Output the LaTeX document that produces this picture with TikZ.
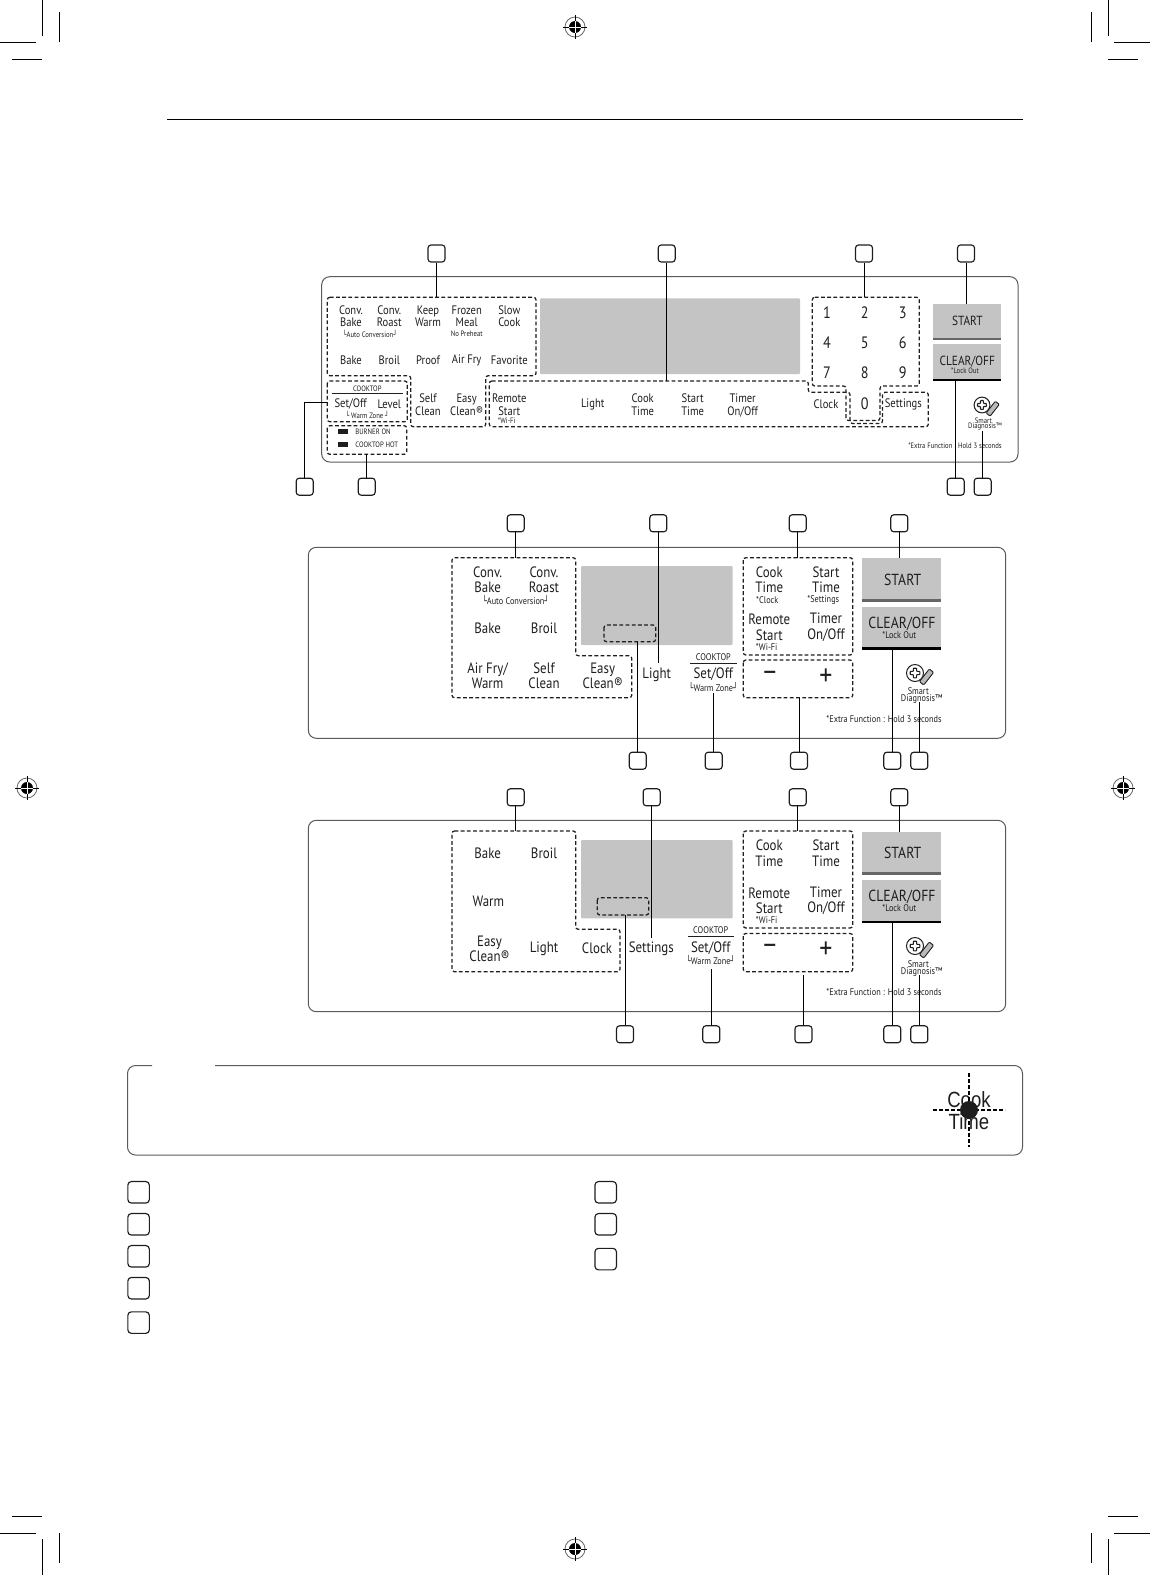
\documentclass[tikz,border=0pt]{standalone}
\usepackage{fontspec}
\setmainfont[FakeStretch=0.86]{PT Sans}
\newfontfamily\boxfont[FakeStretch=0.8]{DejaVu Sans}
\newfontfamily\iconfont[FakeStretch=0.82]{Liberation Sans}
\usepackage{xcolor}
\usetikzlibrary{calc}
\definecolor{inkK}{HTML}{1E1E1E}
\definecolor{panelG}{HTML}{5A5A5A}
\definecolor{screenG}{HTML}{C4C4C4}
\definecolor{barG}{HTML}{666666}
\newcommand{\lc}{{\boxfont └}}
\newcommand{\rc}{{\boxfont ┘}}
% registration mark and smart diagnosis icon
\newcommand{\regmark}[3]{%
  \node[circle, draw=barG, line width=0.8pt, minimum size=20pt, inner sep=0pt] (#1) at (#2,#3) {};
  \node[circle, fill=black, minimum size=12pt, inner sep=0pt] (#1c) at (#2,#3) {};
  \draw[white, line width=0.5pt] ($(#1c)+(-6,0)$)--($(#1c)+(6,0)$) ($(#1c)+(0,-6)$)--($(#1c)+(0,6)$);
  \draw[black, line width=0.9pt] ($(#1c)+(-12,0)$)--($(#1c)+(-6,0)$) ($(#1c)+(6,0)$)--($(#1c)+(12,0)$)
    ($(#1c)+(0,-12)$)--($(#1c)+(0,-6)$) ($(#1c)+(0,6)$)--($(#1c)+(0,12)$);}
\newcommand{\smarticon}[3]{%
  \node[circle, draw=inkK, line width=1pt, minimum size=#3*17pt, inner sep=0pt] (#1) at (#2) {};
  \draw[inkK, line width=1.1pt, rounded corners=0.6pt, scale=#3]
    ($(#1)+(-1.6,-4.8)$)--++(3.2,0)--++(0,3.2)--++(3.2,0)--++(0,3.2)--++(-3.2,0)--++(0,3.2)--++(-3.2,0)
    --++(0,-3.2)--++(-3.2,0)--++(0,-3.2)--++(3.2,0)--cycle;
  \node[draw=inkK, line width=0.9pt, fill=barG!45, rounded corners=1pt, minimum width=#3*16pt, minimum height=#3*5.5pt,
    inner sep=0pt, rotate=52] (#1p) at ($(#1)+(#3*11.5,#3*4)$) {};}

\begin{document}
\begin{tikzpicture}[x=1pt, y=-1pt,
  callout/.style={draw=inkK, line width=1.15pt, rounded corners=3pt, minimum size=17pt, inner sep=0pt},
  legendbox/.style={draw=inkK, line width=1.15pt, rounded corners=3.5pt, minimum size=21.5pt, inner sep=0pt},
  panel/.style={draw=panelG, line width=1pt, rounded corners=8pt},
  group/.style={draw=inkK, line width=1.25pt, dash pattern=on 3.8pt off 2.4pt, rounded corners=2.5pt},
  leader/.style={draw=black, line width=0.85pt},
  crop/.style={draw=black, line width=0.9pt},
  screen/.style={fill=screenG, rounded corners=1pt},
  keyA/.style={align=center, inner sep=0pt, text=inkK, font=\fontsize{12.3}{12.7}\selectfont},
  keyB/.style={align=center, inner sep=0pt, text=inkK, font=\fontsize{15}{15.4}\selectfont},
  btnA/.style={inner sep=0pt, text=inkK, font=\fontsize{13.2}{13.5}\selectfont},
  btnB/.style={inner sep=0pt, text=inkK, font=\fontsize{16}{16.4}\selectfont},
  noteA/.style={inner sep=0pt, text=inkK, font=\fontsize{7.8}{8}\selectfont},
  noteB/.style={inner sep=0pt, text=inkK, font=\fontsize{9.6}{10}\selectfont},
  digit/.style={inner sep=0pt, text=inkK, font=\fontsize{16.5}{17}\selectfont},
  sign/.style={inner sep=0pt, text=inkK, font=\fontsize{30}{30}\selectfont}
]
\useasboundingbox (0,0) rectangle (1150,1575);

% Crop marks
\draw[crop] (42.5,0)--(42.5,35.5) (59.5,12)--(59.5,41.5) (0,42.5)--(35.5,42.5) (12,59.5)--(42,59.5);
\draw[crop] (1108.3,0)--(1108.3,35.5) (1091.3,12)--(1091.3,41.5) (1114,42.5)--(1150,42.5) (1108,59.5)--(1138,59.5);
\draw[crop] (42.5,1539)--(42.5,1575) (59.5,1533)--(59.5,1563) (0,1533.3)--(35.5,1533.3) (12,1516.3)--(42,1516.3);
\draw[crop] (1108.3,1539)--(1108.3,1575) (1091.3,1533)--(1091.3,1563) (1114,1533.3)--(1150,1533.3) (1108,1516.3)--(1138,1516.3);
\regmark{regT}{575}{27}
\regmark{regL}{27}{788}
\regmark{regR}{1123}{788}
\regmark{regB}{575}{1549}

% Header rule
\draw[black, line width=0.9pt] (167,119)--(1023,119);

% Panel 1
\draw[panel] (321.7,276.7) rectangle (1018,462);
\fill[screen] (540,298.3) rectangle (800,374);
\draw[group] (327.3,297.3)--(536,297.3)--(536,375.7)--(485.7,375.7)--(485.7,426.7)--(410.7,426.7)--(410.7,375.7)--(327.3,375.7)--cycle;
\draw[group] (327.3,381) rectangle (407.3,421.7);
\draw[group] (327.3,425.7) rectangle (406.7,454.3);
\draw[group] (489.3,381)--(808.3,381)--(808.3,392.3)--(850,392.3)--(850,423.5)--(882.5,423.5)--(882.5,392.3)--(928.3,392.3)--(928.3,426.7)--(489.3,426.7)--cycle;
\draw[group] (812.3,297.3)--(919.3,297.3)--(919.3,386)--(880,386)--(880,420.5)--(846,420.5)--(846,386)--(812.3,386)--cycle;
\fill[screenG] (933.3,304) rectangle (1001,338.3);
\fill[barG] (933.3,338.3) rectangle (1001,340.3);
\fill[screenG] (933.3,344) rectangle (1001,379);
\fill[black] (933.3,379) rectangle (1001,381);

\node[keyA] (aConvBake) at (351,316.3) {Conv.\\Bake};
\node[keyA] (aConvRoast) at (389.3,316.3) {Conv.\\Roast};
\node[keyA] (aKeepWarm) at (428,316.3) {Keep\\Warm};
\node[keyA] (aFrozen) at (466.7,316.3) {Frozen\\Meal};
\node[keyA] (aSlow) at (509.3,316.3) {Slow\\Cook};
\node[noteA] (aAuto) at (370,334) {\lc Auto Conversion\rc};
\node[noteA] (aPreheat) at (466.7,334) {No Preheat};
\node[keyA] (aBake) at (351,360) {Bake};
\node[keyA] (aBroil) at (389.3,360) {Broil};
\node[keyA] (aProof) at (428,360) {Proof};
\node[keyA] (aAirFry) at (466.7,360.5) {Air Fry};
\node[keyA] (aFavorite) at (509.3,360) {Favorite};
\node[noteA] (aCooktop) at (367.3,388.3) {COOKTOP};
\draw[inkK, line width=0.7pt] (331.7,393.3)--(403.3,393.3);
\node[keyA] (aSetOff) at (350.7,404) {Set/Off};
\node[keyA] (aLevel) at (389.3,404) {Level};
\node[noteA] (aZone) at (367.3,415) {\lc\ Warm Zone \rc};
\node[keyA] (aSelf) at (428,404.8) {Self\\Clean};
\node[keyA] (aEasy) at (466.7,404.8) {Easy\\Clean®};
\node[keyA] (aRemote) at (509.3,404.8) {Remote\\Start};
\node[noteA] (aWifi) at (506.7,420.8) {*Wi-Fi};
\node[keyA] (aLight) at (592.7,404.5) {Light};
\node[keyA] (aCook) at (642.7,404.8) {Cook\\Time};
\node[keyA] (aStart) at (692.7,404.8) {Start\\Time};
\node[keyA] (aTimer) at (742.7,405.3) {Timer\\On/Off};
\node[keyA] (aClock) at (826,404) {Clock};
\node[keyA] (aSettings) at (903.3,404.5) {Settings};
\fill[inkK] (338.3,429) rectangle (348.3,434.3);
\fill[inkK] (338.3,442.3) rectangle (348.3,447.3);
\node[noteA] (aBurner) at (373,431.7) {BURNER ON};
\node[noteA] (aHot) at (376.7,445) {COOKTOP HOT};

% Keypad digits
\node[digit] (k1) at (827,312.7) {1};
\node[digit] (k2) at (864.7,312.7) {2};
\node[digit] (k3) at (902.7,312.7) {3};
\node[digit] (k4) at (827,343) {4};
\node[digit] (k5) at (864.7,343) {5};
\node[digit] (k6) at (902.7,343) {6};
\node[digit] (k7) at (827,373) {7};
\node[digit] (k8) at (864.7,373) {8};
\node[digit] (k9) at (902.7,373) {9};
\node[digit] (k0) at (864.7,404) {0};

\node[btnA] (aStartKey) at (967.3,321) {START};
\node[btnA] (aClear) at (967.3,361.5) {CLEAR/OFF};
\node[noteA] (aLock) at (965,370.7) {*Lock Out};
\smarticon{aIcon}{982,405}{0.93}
\node[noteA] (aSmart) at (983.3,420.7) {Smart};
\node[noteA] (aDiag) at (985,427) {Diagnosis™};
\node[noteA] (aExtra) at (955,445.5) {*Extra Function : Hold 3 seconds};

% Panel 1 callouts
\node[callout] (c1a) at (436.5,253.5) {};
\node[callout] (c1b) at (666.7,253.5) {};
\node[callout] (c1c) at (864,253.5) {};
\node[callout] (c1d) at (966,253.5) {};
\node[callout] (c1e) at (304.7,486.7) {};
\node[callout] (c1f) at (366.7,486.7) {};
\node[callout] (c1g) at (955.7,486.7) {};
\node[callout] (c1h) at (982.7,486.7) {};
\coordinate (t1a) at (436.5,297.3);
\coordinate (t1b) at (666.7,381);
\coordinate (t1c) at (864,297.3);
\coordinate (t1d) at (966,304);
\coordinate (t1e) at (327.3,402.5);
\coordinate (t1f) at (366.7,454.3);
\coordinate (t1g) at (955.7,381);
\coordinate (t1h) at (982.7,430.5);
\draw[leader] (c1a)--(t1a); \draw[leader] (c1b)--(t1b);
\draw[leader] (c1c)--(t1c); \draw[leader] (c1d)--(t1d);
\draw[leader] (c1e)--(c1e |- t1e)--(t1e); \draw[leader] (c1f)--(t1f);
\draw[leader] (c1g)--(t1g); \draw[leader] (c1h)--(t1h);

% Panel 2
\draw[panel] (308.3,547.3) rectangle (1005.7,738.3);
\fill[screen] (581,566) rectangle (732.7,645);
\draw[group] (452,557.7)--(575.7,557.7)--(575.7,655.7)--(631.7,655.7)--(631.7,697.7)--(452,697.7)--cycle;
\draw[group] (604,625) rectangle (655.7,641.7);
\draw[group] (743.3,557.7) rectangle (852.7,655);
\draw[group] (743.3,660) rectangle (852.7,697.7);
\fill[screenG] (862.3,558.3) rectangle (941,599);
\fill[barG] (862.3,599) rectangle (941,602);
\fill[screenG] (862.3,606.7) rectangle (941,647.3);
\fill[black] (862.3,647.3) rectangle (941,650);

\node[keyB] (bConvBake) at (487.6,580) {Conv.\\Bake};
\node[keyB] (bConvRoast) at (544,580) {Conv.\\Roast};
\node[noteB] (bAuto) at (515.7,600.5) {\lc Auto Conversion\rc};
\node[keyB] (bBake) at (487.6,628) {Bake};
\node[keyB] (bBroil) at (544,628) {Broil};
\node[keyB] (bAirFry) at (487.6,676) {Air Fry/\\Warm};
\node[keyB] (bSelf) at (544,676) {Self\\Clean};
\node[keyB] (bEasy) at (602.7,676) {Easy\\Clean®};
\node[keyB] (bLight) at (656.7,674.5) {Light};
\node[noteB] (bCooktop) at (713.3,656.7) {COOKTOP};
\draw[inkK, line width=0.7pt] (690,663.3)--(736.7,663.3);
\node[keyB] (bSetOff) at (713.3,674.5) {Set/Off};
\node[noteB] (bZone) at (713.3,687.2) {\lc Warm Zone\rc};
\node[keyB] (bCook) at (769.3,580) {Cook\\Time};
\node[noteB] (bClock) at (767.3,600) {*Clock};
\node[keyB] (bStart) at (826,580) {Start\\Time};
\node[noteB] (bSettings) at (823.3,600) {*Settings};
\node[keyB] (bRemote) at (769.3,627.3) {Remote\\Start};
\node[noteB] (bWifi) at (766.7,647) {*Wi-Fi};
\node[keyB] (bTimer) at (826,627.3) {Timer\\On/Off};
\node[sign] (bMinus) at (770,677) {−};
\node[sign] (bPlus) at (826,677) {+};
\node[btnB] (bStartKey) at (902.7,579.6) {START};
\node[btnB] (bClear) at (902,623.5) {CLEAR/OFF};
\node[noteB] (bLock) at (899.3,635) {*Lock Out};
\smarticon{bIcon}{915,673}{1}
\node[noteB] (bSmart) at (918.3,691) {Smart};
\node[noteB] (bDiag) at (921.7,699) {Diagnosis™};
\node[noteB] (bExtra) at (884,719) {*Extra Function : Hold 3 seconds};

% Panel 2 callouts
\node[callout] (c2a) at (515.7,523.3) {};
\node[callout] (c2b) at (658.3,523.3) {};
\node[callout] (c2c) at (797.7,523.3) {};
\node[callout] (c2d) at (899.3,523.3) {};
\node[callout] (c2e) at (637.7,760.7) {};
\node[callout] (c2f) at (713.7,760.7) {};
\node[callout] (c2g) at (799,760.7) {};
\node[callout] (c2h) at (892.3,760.7) {};
\node[callout] (c2i) at (919.3,760.7) {};
\coordinate (t2a) at (515.7,557.7);
\coordinate (t2b) at (658.3,662.7);
\coordinate (t2c) at (797.7,557.7);
\coordinate (t2d) at (899.3,558.3);
\coordinate (t2e) at (637.7,641.7);
\coordinate (t2f) at (713.7,693);
\coordinate (t2g) at (799,697.7);
\coordinate (t2h) at (892.3,650);
\coordinate (t2i) at (919.3,702);
\draw[leader] (c2a)--(t2a); \draw[leader] (c2b)--(t2b);
\draw[leader] (c2c)--(t2c); \draw[leader] (c2d)--(t2d);
\draw[leader] (c2e)--(t2e); \draw[leader] (c2f)--(t2f);
\draw[leader] (c2g)--(t2g); \draw[leader] (c2h)--(t2h);
\draw[leader] (c2i)--(t2i);

% Panel 3
\draw[panel] (308.3,820.3) rectangle (1005.7,1011.7);
\fill[screen] (581,840) rectangle (732.7,918.3);
\draw[group] (452,831)--(575.7,831)--(575.7,929.3)--(620,929.3)--(620,971.7)--(452,971.7)--cycle;
\draw[group] (597.3,897.7) rectangle (648.7,915);
\draw[group] (743.3,831) rectangle (852.7,928);
\draw[group] (743.3,933.5) rectangle (852.7,971.7);
\fill[screenG] (862.3,831.5) rectangle (941,872);
\fill[barG] (862.3,872) rectangle (941,875);
\fill[screenG] (862.3,880) rectangle (941,920.5);
\fill[black] (862.3,920.5) rectangle (941,923);

\node[keyB] (dBake) at (487.7,853.6) {Bake};
\node[keyB] (dBroil) at (544,853.6) {Broil};
\node[keyB] (dWarm) at (488.3,901.2) {Warm};
\node[keyB] (dEasy) at (489.5,949) {Easy\\Clean®};
\node[keyB] (dLight) at (544,948.5) {Light};
\node[keyB] (dClock) at (597,948.2) {Clock};
\node[keyB] (dSettings) at (651.3,948.5) {Settings};
\node[noteB] (dCooktop) at (710.7,930.3) {COOKTOP};
\draw[inkK, line width=0.7pt] (687.7,936)--(734,936);
\node[keyB] (dSetOff) at (710.7,948.5) {Set/Off};
\node[noteB] (dZone) at (710.7,960.5) {\lc Warm Zone\rc};
\node[keyB] (dCook) at (769.3,853.3) {Cook\\Time};
\node[keyB] (dStart) at (826,853.3) {Start\\Time};
\node[keyB] (dRemote) at (769.3,901) {Remote\\Start};
\node[noteB] (dWifi) at (766.7,920.3) {*Wi-Fi};
\node[keyB] (dTimer) at (826,901) {Timer\\On/Off};
\node[sign] (dMinus) at (770,950) {−};
\node[sign] (dPlus) at (826,950) {+};
\node[btnB] (dStartKey) at (902.7,853) {START};
\node[btnB] (dClear) at (902,896.8) {CLEAR/OFF};
\node[noteB] (dLock) at (899.3,908.5) {*Lock Out};
\smarticon{dIcon}{915,946}{1}
\node[noteB] (dSmart) at (918.3,964) {Smart};
\node[noteB] (dDiag) at (921.7,972) {Diagnosis™};
\node[noteB] (dExtra) at (884,992.5) {*Extra Function : Hold 3 seconds};

% Panel 3 callouts
\node[callout] (c3a) at (515.7,797.3) {};
\node[callout] (c3b) at (651.7,797.3) {};
\node[callout] (c3c) at (797.7,797.3) {};
\node[callout] (c3d) at (899.3,797.3) {};
\node[callout] (c3e) at (625,1034.3) {};
\node[callout] (c3f) at (711.3,1034.3) {};
\node[callout] (c3g) at (803.5,1034.3) {};
\node[callout] (c3h) at (892.3,1034.3) {};
\node[callout] (c3i) at (919.3,1034.3) {};
\coordinate (t3a) at (515.7,831);
\coordinate (t3b) at (651.7,937.7);
\coordinate (t3c) at (797.7,831);
\coordinate (t3d) at (899.3,831.5);
\coordinate (t3e) at (625,915);
\coordinate (t3f) at (711.3,969.3);
\coordinate (t3g) at (803.5,975);
\coordinate (t3h) at (892.3,923);
\coordinate (t3i) at (919.3,975);
\draw[leader] (c3a)--(t3a); \draw[leader] (c3b)--(t3b);
\draw[leader] (c3c)--(t3c); \draw[leader] (c3d)--(t3d);
\draw[leader] (c3e)--(t3e); \draw[leader] (c3f)--(t3f);
\draw[leader] (c3g)--(t3g); \draw[leader] (c3h)--(t3h);
\draw[leader] (c3i)--(t3i);

% Note box with a gap in the top edge
\draw[panel] (152,1065.5)--(127.5,1065.5)--(127.5,1155)--(1022.5,1155)--(1022.5,1065.5)--(215,1065.5);

% Press icon
\coordinate (press) at (969,1110);
\node[align=center, inner sep=0pt, xscale=1.03, transform shape, text=inkK, font=\iconfont\fontsize{22}{22}\selectfont] (pText) at (969,1110.5) {Cook\\Time};
\draw[black, line width=1.1pt, dash pattern=on 3.6pt off 2.4pt] (933,1110)--(1005,1110) (969,1073)--(969,1147);
\node[circle, fill=inkK, minimum size=18pt, inner sep=0pt] (pDot) at (press) {};

% Legend
\node[legendbox] (la) at (138.6,1192.3) {};
\node[legendbox] (lb) at (138.6,1224.3) {};
\node[legendbox] (lc) at (138.6,1256.3) {};
\node[legendbox] (ld) at (138.6,1288.2) {};
\node[legendbox] (le) at (138.6,1322.6) {};
\node[legendbox] (lf) at (605.7,1192.3) {};
\node[legendbox] (lg) at (605.7,1224.3) {};
\node[legendbox] (lh) at (605.7,1259.1) {};
\end{tikzpicture}
\end{document}
